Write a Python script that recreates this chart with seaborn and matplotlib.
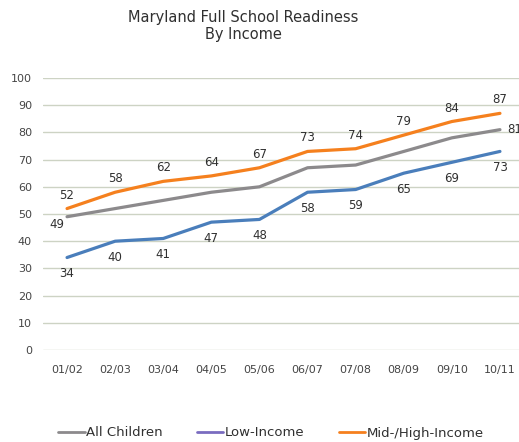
import matplotlib
matplotlib.use("Agg")
import matplotlib.pyplot as plt
from matplotlib.lines import Line2D
import pandas as pd
import seaborn as sns

years = ["01/02", "02/03", "03/04", "04/05", "05/06", "06/07", "07/08", "08/09", "09/10", "10/11"]
all_children = [49, 52, 55, 58, 60, 67, 68, 73, 78, 81]
low_income = [34, 40, 41, 47, 48, 58, 59, 65, 69, 73]
mid_high = [52, 58, 62, 64, 67, 73, 74, 79, 84, 87]
series_names = ["All Children", "Low-Income", "Mid-/High-Income"]

line_colors = {"All Children": "#8c8a8c", "Low-Income": "#4a7ebb", "Mid-/High-Income": "#f5801e"}
legend_colors = ["#8c8a8c", "#7a6cc0", "#f5801e"]

df = pd.DataFrame({
    "year": years * 3,
    "x": list(range(len(years))) * 3,
    "value": all_children + low_income + mid_high,
    "series": [series_names[0]] * 10 + [series_names[1]] * 10 + [series_names[2]] * 10,
})

sns.set_style("white")
plt.rcParams["font.family"] = ["DejaVu Sans"]

fig = plt.figure(figsize=(5.19, 4.42), dpi=100)
ax = fig.add_axes([43 / 519, 92 / 442, 481 / 519, 272 / 442])

sns.lineplot(data=df, x="x", y="value", hue="series", palette=line_colors,
             linewidth=2.3, legend=False, ax=ax)

ax.set_xlim(-0.5, 9.5)
ax.set_ylim(0, 100)
ax.set_yticks(range(0, 101, 10))
ax.set_xticks(range(len(years)))
ax.set_xticklabels(years)
ax.tick_params(axis="both", length=0, labelsize=8, labelcolor="#454545")
ax.tick_params(axis="y", pad=8)
ax.tick_params(axis="x", pad=11)
ax.yaxis.grid(True, color="#cdd3c4", linewidth=1)
ax.set_axisbelow(True)
ax.set_xlabel("")
ax.set_ylabel("")
for s in ax.spines.values():
    s.set_visible(False)

# data labels
for i, v in enumerate(mid_high):
    ax.annotate(str(v), (i, v), xytext=(0, 5), textcoords="offset points",
                ha="center", va="bottom", fontsize=8.5, color="#303030")
for i, v in enumerate(low_income):
    ax.annotate(str(v), (i, v), xytext=(0, -7), textcoords="offset points",
                ha="center", va="top", fontsize=8.5, color="#303030")
ax.annotate(str(all_children[0]), (0, all_children[0]), xytext=(-7, -1), textcoords="offset points",
            ha="center", va="top", fontsize=8.5, color="#303030")
ax.annotate(str(all_children[-1]), (9, all_children[-1]), xytext=(5, 0), textcoords="offset points",
            ha="left", va="center", fontsize=8.5, color="#303030", annotation_clip=False)

fig.text(243 / 519, 1 - 26 / 442, "Maryland Full School Readiness\nBy Income",
         ha="center", va="center", fontsize=10.5, color="#303030", linespacing=1.2)

handles = [Line2D([], [], color=c, linewidth=2) for c in legend_colors]
fig.legend(handles, series_names, loc="center", bbox_to_anchor=(271 / 519, 1 - 433 / 442),
           ncol=3, frameon=False, fontsize=9.5, handlelength=2.0, handletextpad=0.1,
           columnspacing=2.6, labelcolor="#303030")

fig.savefig("out.png", dpi=100)
